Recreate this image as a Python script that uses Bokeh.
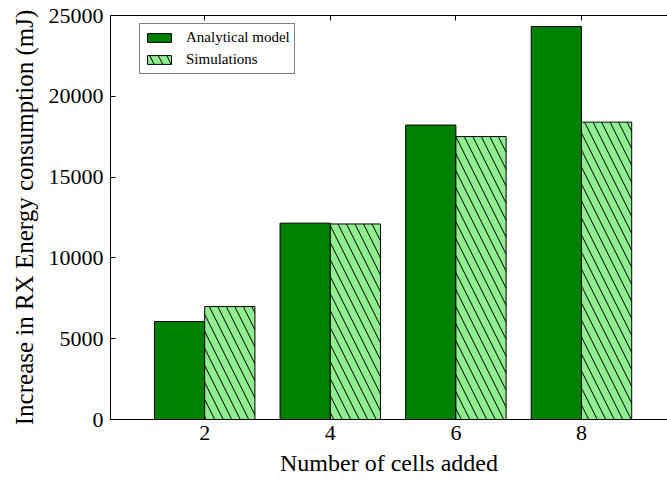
from bokeh.plotting import figure
from bokeh.models import (ColumnDataSource, LinearAxis, FixedTicker, Range1d, Legend, LegendItem, Title)
from bokeh.transform import dodge
from bokeh.embed import file_html
from bokeh.resources import INLINE

# ---- data ----
cells_added = [2, 4, 6, 8]
analytical_model = [6060, 12150, 18220, 24320]
simulations = [6990, 12100, 17510, 18400]
y_ticks = [0, 5000, 10000, 15000, 20000, 25000]
x_label = "Number of cells added"
y_label = "Increase in RX Energy consumption (mJ)"

FONT = "Liberation Serif"

src = ColumnDataSource(dict(cells=cells_added, analytical=analytical_model, sim=simulations))

p = figure(width=667, height=485, output_backend="svg", toolbar_location=None,
           x_range=Range1d(0.5, 9.37), y_range=Range1d(0, 25000),
           min_border_left=110, min_border_right=0, min_border_top=15, min_border_bottom=66,
           x_axis_type=None, y_axis_type=None)
p.outline_line_color = None
p.background_fill_color = "white"
p.border_fill_color = "white"

r1 = p.vbar(x=dodge("cells", -0.4, range=p.x_range), top="analytical", width=0.8, source=src,
            fill_color="#008000", line_color="black", line_width=1)
r2 = p.vbar(x=dodge("cells", 0.4, range=p.x_range), top="sim", width=0.8, source=src,
            fill_color="#90EE90", line_color="black", line_width=1,
            hatch_pattern="\\", hatch_color="black", hatch_weight=1, hatch_scale=17)

xt = FixedTicker(ticks=cells_added)
yt = FixedTicker(ticks=y_ticks)

xaxis = LinearAxis(ticker=xt)
yaxis = LinearAxis(ticker=yt)
top_axis = LinearAxis(ticker=xt, major_label_overrides={c: "" for c in cells_added})

for ax in (xaxis, yaxis, top_axis):
    ax.axis_line_color = "black"
    ax.axis_line_width = 1
    ax.major_tick_line_color = "black"
    ax.major_tick_in = 5
    ax.major_tick_out = 0
    ax.minor_tick_line_color = None
    ax.major_label_text_font = FONT
    ax.major_label_text_font_size = "22px"
    ax.major_label_text_color = "black"

top_axis.major_label_standoff = 0
xaxis.major_label_standoff = 6
yaxis.major_label_standoff = 7

p.add_layout(xaxis, "below")
p.add_layout(yaxis, "left")
p.add_layout(top_axis, "above")

xtitle = Title(text=x_label, align="center", vertical_align="middle", text_font=FONT,
               text_font_size="24px", text_font_style="normal", text_color="black", standoff=12)
ytitle = Title(text=y_label, align="center", text_font=FONT, text_font_size="25px",
               text_font_style="normal", text_color="black", standoff=15)
p.add_layout(xtitle, "below")
p.add_layout(ytitle, "left")

p.ygrid.ticker = yt
p.xgrid.visible = False
p.ygrid.grid_line_color = "#d4d4d4"
p.ygrid.grid_line_dash = "6 4"
p.ygrid.grid_line_width = 1

legend = Legend(items=[LegendItem(label="Analytical model", renderers=[r1]),
                       LegendItem(label="Simulations", renderers=[r2])],
                location=(29, 345))
legend.label_text_font = FONT
legend.label_text_font_size = "15px"
legend.label_text_color = "black"
legend.glyph_width = 30
legend.glyph_height = 11
legend.label_height = 19
legend.label_standoff = 12
legend.spacing = 3
legend.padding = 4
legend.margin = 0
legend.border_line_color = "black"
legend.border_line_width = 1
legend.background_fill_color = "white"
legend.background_fill_alpha = 1
p.add_layout(legend, "center")

open("out.html", "w").write(file_html(p, INLINE))
